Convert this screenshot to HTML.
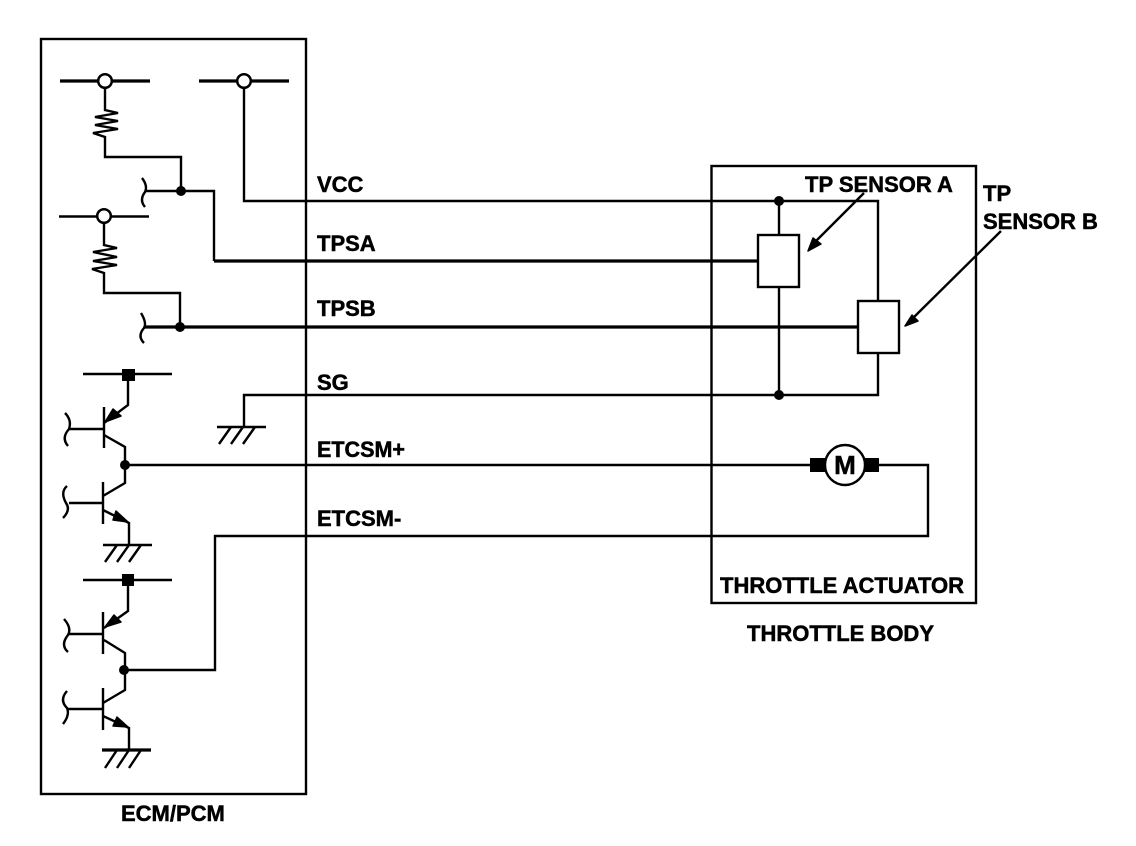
<!DOCTYPE html>
<html><head><meta charset="utf-8"><style>
html,body{margin:0;padding:0;background:#fff}
svg{display:block}
text{font-family:"Liberation Sans",Arial,sans-serif;font-weight:bold;font-size:22px;fill:#000;stroke:#000;stroke-width:.5px}
.l{fill:none;stroke:#000;stroke-width:2.4;stroke-linejoin:miter}
.t{fill:none;stroke:#000;stroke-width:3.2}
polygon{fill:#000;stroke:#000;stroke-width:1.5;stroke-linejoin:round}
</style></head><body>
<svg width="1136" height="846" viewBox="0 0 1136 846" xmlns="http://www.w3.org/2000/svg">
<rect width="1136" height="846" fill="#fff"/>
<rect x="41" y="39" width="265" height="755" class="l"/>
<rect x="711.500" y="166" width="264.500" height="437" class="l"/>

<!-- supplies -->
<path class="t" d="M60 81H150M199 81H289"/>
<path class="l" d="M59 216.500H149"/>
<path class="l" d="M244 87V201H878V301M878 353V395H244V427"/>
<path class="l" d="M105 87V110L118 113L95 117L118 121L95 125L118 129L93 133L105 137V157H181V191"/>
<path class="l" d="M104 222V245L117 248L93 252L117 257L93 261L117 265L92 269L104 273V293H180V327"/>
<circle cx="105" cy="81" r="6.800" fill="#fff" stroke="#000" stroke-width="2.500"/>
<circle cx="244" cy="81" r="6.800" fill="#fff" stroke="#000" stroke-width="2.500"/>
<circle cx="104" cy="216" r="6.800" fill="#fff" stroke="#000" stroke-width="2.500"/>

<!-- signal wires -->
<path class="l" d="M145 191H214V261"/>
<path class="t" d="M214 261H758M145 327H858"/>
<path class="l" d="M779 201V235M779 287V395"/>
<path class="l" d="M142 178Q148 186 145 192Q139 200 145 207"/>
<path class="l" d="M141 313Q147 323 144 328Q137 336 144 343"/>
<circle cx="181" cy="191" r="5"/>
<circle cx="180" cy="327" r="5"/>
<circle cx="779" cy="201" r="5"/>
<circle cx="779" cy="395" r="5"/>

<!-- ground SG -->
<path class="l" d="M217 427H266M219 444L231 427M231 444L243 427M243 444L255 427"/>

<!-- upper transistor pair -->
<path class="l" d="M83 374H172"/>
<rect x="122" y="369" width="13" height="12"/>
<path class="l" d="M128 381V405L104 423M104 407V448M69 429H104M104 435L125 447V483L103 496M103 482V524M69 503H103M103 510L129 523V545"/>
<path class="l" d="M65 413Q72 420 69 429Q61 438 68 446"/>
<path class="l" d="M67 486Q60 492 66 503Q71 510 63 518"/>
<polygon points="105,422 113,409 121,416"/>
<polygon points="128,522 116,511 113,520"/>
<path class="l" d="M125 465H810"/>
<circle cx="125" cy="465" r="5"/>
<path class="l" d="M103 545H152M105 562L117 545M117 562L129 545M129 562L141 545"/>

<!-- lower transistor pair -->
<path class="l" d="M83 580H172"/>
<rect x="122" y="574" width="12" height="12"/>
<path class="l" d="M128 586V611L104 628M103 612V654M69 634H103M104 640L125 653V690L103 703M103 688V730M67 709H103M103 716L129 728V750"/>
<path class="l" d="M64 619Q72 628 68 635Q60 645 68 652"/>
<path class="l" d="M67 691Q59 700 67 708Q70 715 63 724"/>
<polygon points="105,627 114,615 121,622"/>
<polygon points="128,727 117,717 113,726"/>
<path class="l" d="M124 670H215V536H928V465H879"/>
<circle cx="124" cy="670" r="5"/>
<path class="t" d="M102 750H151"/>
<path class="l" d="M105 768L117 750M117 768L129 750M129 768L141 750"/>

<!-- sensors -->
<rect x="758" y="235" width="41" height="52" fill="#fff" stroke="#000" stroke-width="2.400"/>
<rect x="858" y="301" width="41" height="52" fill="#fff" stroke="#000" stroke-width="2.400"/>
<path class="l" d="M864 193L811 246M1001 231L909 322"/>
<polygon points="808,251 813,238 821,244"/>
<polygon points="905,326 912,315 918,321"/>

<!-- motor -->
<rect x="810" y="458" width="15" height="14"/>
<rect x="864" y="458" width="15" height="14"/>
<circle cx="845" cy="465" r="20" fill="#fff" stroke="#000" stroke-width="2.400"/>
<text x="845" y="474" text-anchor="middle" style="font-size:26px">M</text>

<!-- labels -->
<text x="317" y="192">VCC</text>
<text x="317" y="251">TPSA</text>
<text x="317" y="316">TPSB</text>
<text x="317" y="390">SG</text>
<text x="317" y="457" textLength="88" lengthAdjust="spacingAndGlyphs">ETCSM+</text>
<text x="317" y="526">ETCSM-</text>
<text x="805" y="192">TP SENSOR A</text>
<text x="983" y="201">TP</text>
<text x="983" y="229">SENSOR B</text>
<text x="720" y="593">THROTTLE ACTUATOR</text>
<text x="747" y="641">THROTTLE BODY</text>
<text x="121" y="821">ECM/PCM</text>
</svg>
</body></html>
